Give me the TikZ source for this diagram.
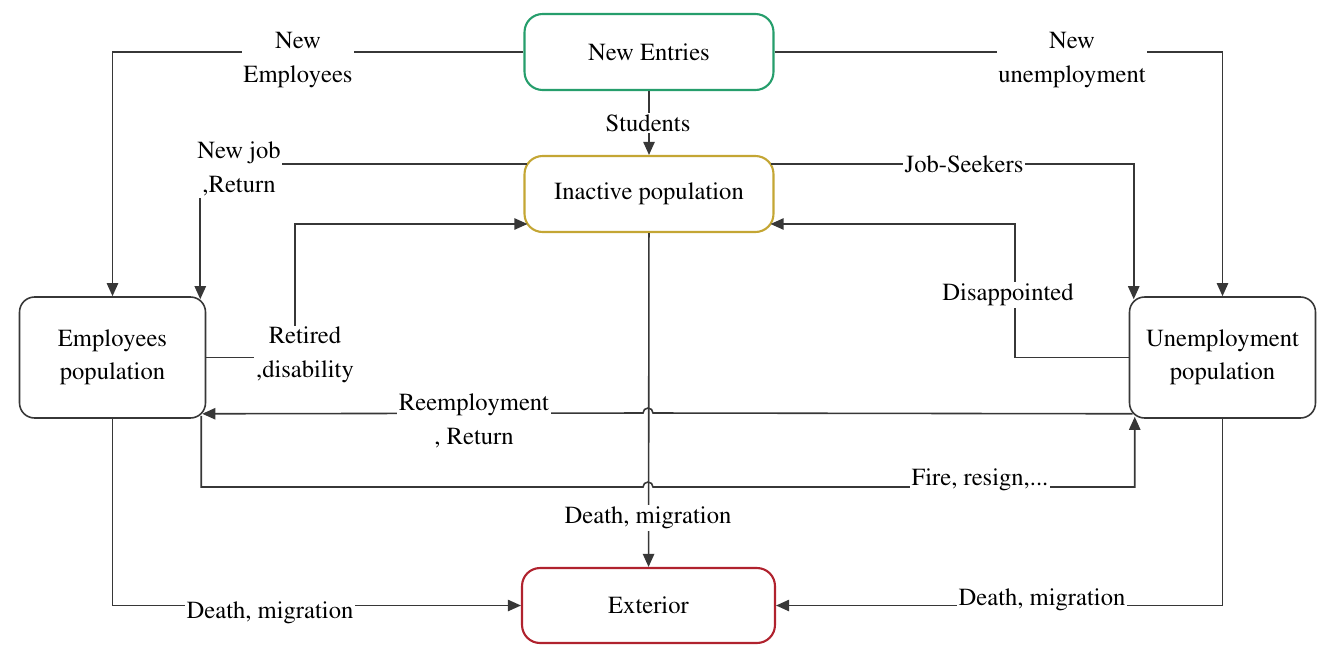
\documentclass[tikz,border=0pt]{standalone}
\usepackage[T1]{fontenc}
\usepackage{mathptmx}
\usetikzlibrary{arrows.meta,calc}
\definecolor{entrygreen}{RGB}{38,158,108}
\definecolor{inactgold}{RGB}{196,166,52}
\definecolor{extred}{RGB}{176,34,46}
\definecolor{linegray}{RGB}{55,55,55}
\tikzset{
  box/.style={draw, rounded corners=.36cm, line width=1.2pt, fill=white,
    align=center},
  popbox/.style={box, draw=linegray, line width=.9pt, rounded corners=.3cm,
    minimum width=3.72cm, minimum height=2.42cm},
  flow/.style={draw=linegray, line width=.9pt,
    -{Triangle[length=7.5pt,width=6.5pt]}},
  lbl/.style={fill=white, inner sep=1pt, align=center}
}

\begin{document}
\begin{tikzpicture}[x=.02cm, y=-.02cm, font=\fontsize{14}{19}\selectfont]
  \useasboundingbox (0,0) rectangle (1317,649);

  \node[box, draw=entrygreen, minimum width=4.98cm, minimum height=1.52cm]
    at (649,52) (entries) {New Entries};
  \node[box, draw=inactgold, minimum width=4.98cm, minimum height=1.52cm]
    at (649,194) (inactive) {Inactive population};
  \node[popbox] at (112.5,357.5) (employees) {Employees\\population};
  \node[popbox] at (1222.5,357.5) (unemployment) {Unemployment\\population};
  \node[box, draw=extred, minimum width=5.06cm, minimum height=1.5cm]
    at (648.5,605.5) (exterior) {Exterior};

  % new entries
  \draw[flow] (entries.west) -| (employees.north);
  \draw[flow] (entries.east) -| (unemployment.north);
  \draw[flow] (entries) -- (inactive);
  \node[lbl] at (298,60) (newemp) {New\\Employees};
  \node[lbl] at (1072,60) (newunemp) {New\\unemployment};
  \node[lbl] at (648,123) (students) {Students};

  % inactive <-> employees / unemployment
  \draw[flow] ($(inactive.west)+(4,-30)$) -| ($(employees.north east)+(-6,3)$);
  \node[lbl] at (239,169) (newjob) {New job\\,Return};
  \coordinate (retcorner) at (295,224);
  \draw[flow] (employees.east) -| (retcorner) -- ($(inactive.west)+(4,30)$);
  \node[lbl] at (305,355) (retired) {Retired\\,disability};

  \draw[flow] ($(inactive.east)+(-4,-30)$) -| ($(unemployment.north west)+(5,3)$);
  \node[lbl] at (964,164) (jobseek) {Job-Seekers};
  \coordinate (discorner) at (1015,224);
  \draw[flow] (unemployment.west) -| (discorner) -- ($(inactive.east)+(-4,30)$);
  \node[lbl] at (1008,295) (disap) {Disappointed};

  % to the exterior
  \draw[flow] (inactive) -- (exterior);
  \node[lbl] at (648,518) (deathmid) {Death, migration};
  \draw[flow] (employees.south) |- (exterior.west);
  \node[lbl] at (270,613) (deathleft) {Death, migration};
  \draw[flow] (unemployment.south) |- (exterior.east);
  \node[lbl] at (1042,600) (deathright) {Death, migration};

  % employees <-> unemployment, hopping over the vertical line
  \draw[flow] ($(unemployment.south west)+(4,-5)$) -- (653,413)
    arc (0:-180:5) -- ($(employees.south east)+(-4,-5)$);
  \node[lbl] at (474,421) (reemp) {Reemployment\\, Return};
  \draw[flow] ($(employees.south east)+(-5,-3)$) |- (643,487)
    arc (180:360:5) -| ($(unemployment.south west)+(6,-2)$);
  \node[lbl, anchor=base] at (980,485) (fire) {Fire, resign,...};

\end{tikzpicture}
\end{document}
